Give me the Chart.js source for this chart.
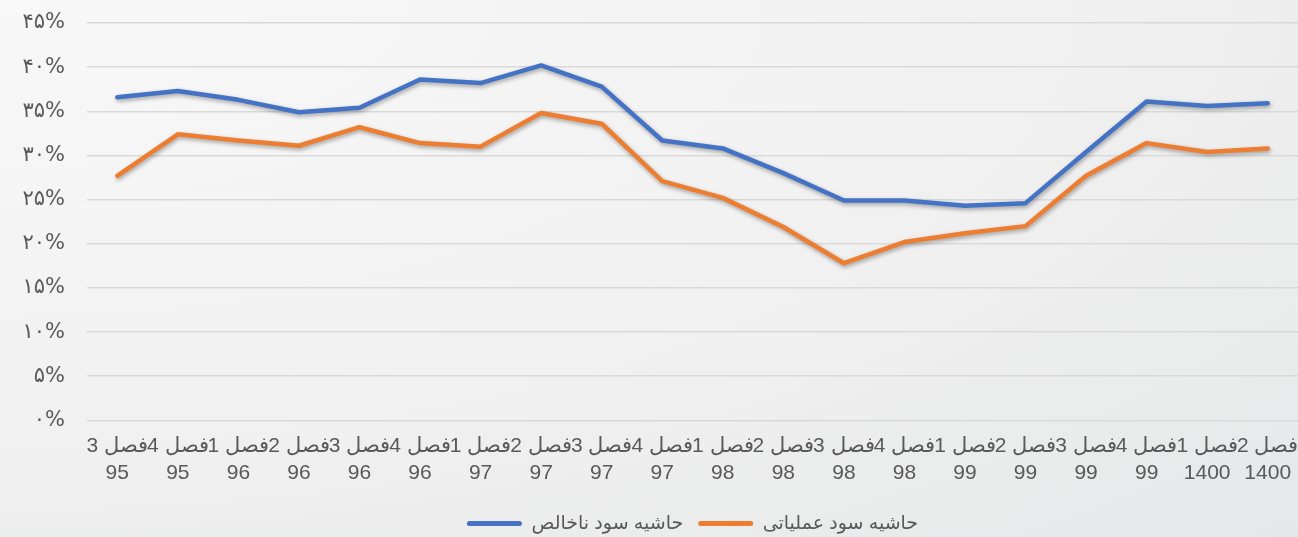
<!DOCTYPE html>
<html>
<head>
<meta charset="utf-8">
<script src="https://cdn.jsdelivr.net/npm/chart.js@4.4.0/dist/chart.umd.min.js"></script>
<style>
    html, body { margin: 0; padding: 0; }
    body {
        width: 1298px;
        height: 537px;
        overflow: hidden;
        background: radial-gradient(ellipse at 0% 0%, #f8f8f8 0%, #f1f1f1 55%, #e6e7e8 100%);
    }
    #wrap { position: relative; width: 1298px; height: 537px; }
</style>
</head>
<body>
<div id="wrap">
    <canvas id="marginChart" dir="rtl"></canvas>
</div>
<script>
const quarterLabels = [
    'فصل 3', 'فصل 4',
    'فصل 1', 'فصل 2', 'فصل 3', 'فصل 4',
    'فصل 1', 'فصل 2', 'فصل 3', 'فصل 4',
    'فصل 1', 'فصل 2', 'فصل 3', 'فصل 4',
    'فصل 1', 'فصل 2', 'فصل 3', 'فصل 4',
    'فصل 1', 'فصل 2'
];
const yearLabels = [
    '95', '95',
    '96', '96', '96', '96',
    '97', '97', '97', '97',
    '98', '98', '98', '98',
    '99', '99', '99', '99',
    '1400', '1400'
];
// حاشیه سود ناخالص (%)
const grossMargin = [36.6, 37.3, 36.3, 34.9, 35.4, 38.6, 38.2, 40.2, 37.8, 31.7,
                     30.8, 28.0, 24.9, 24.9, 24.3, 24.6, 30.4, 36.1, 35.6, 35.9];
// حاشیه سود عملیاتی (%)
const operatingMargin = [27.7, 32.4, 31.7, 31.1, 33.2, 31.4, 31.0, 34.8, 33.6, 27.1,
                         25.2, 21.9, 17.8, 20.2, 21.2, 22.0, 27.7, 31.4, 30.4, 30.8];
const seriesNames = ['حاشیه سود ناخالص', 'حاشیه سود عملیاتی'];
const yTickLabels = ['۰%', '۵%', '۱۰%', '۱۵%', '۲۰%', '۲۵%', '۳۰%', '۳۵%', '۴۰%', '۴۵%'];

document.addEventListener("DOMContentLoaded", function() {

    const ctx = document.getElementById('marginChart');
    const textColor = '#595959';

    const lineShadow = {
        id: 'lineShadow',
        beforeDatasetsDraw: function(chart) {
            const c = chart.ctx;
            c.save();
            c.shadowColor = 'rgba(0, 0, 0, 0.35)';
            c.shadowBlur = 4;
            c.shadowOffsetX = 1;
            c.shadowOffsetY = 2;
        },
        afterDatasetsDraw: function(chart) {
            chart.ctx.restore();
        }
    };

    new Chart(ctx, {
        type: 'line',
        data: {
            labels: quarterLabels.map(function(q, i) { return [q, yearLabels[i]]; }),
            datasets: [
                {
                    label: seriesNames[0],
                    data: grossMargin,
                    borderColor: '#4472c4',
                    backgroundColor: '#4472c4',
                    borderWidth: 4.5,
                    borderCapStyle: 'round',
                    borderJoinStyle: 'round',
                    pointRadius: 0,
                    tension: 0
                },
                {
                    label: seriesNames[1],
                    data: operatingMargin,
                    borderColor: '#ed7d31',
                    backgroundColor: '#ed7d31',
                    borderWidth: 4.5,
                    borderCapStyle: 'round',
                    borderJoinStyle: 'round',
                    pointRadius: 0,
                    tension: 0
                }
            ]
        },
        options: {
            responsive: true,
            maintainAspectRatio: false,
            animation: false,
            layout: {
                padding: { top: 23, right: 0, left: 0, bottom: -6 }
            },
            scales: {
                x: {
                    offset: true,
                    afterFit: function(scale) {
                        scale.paddingLeft = 0;
                        scale.paddingRight = 0;
                    },
                    grid: { display: false, drawTicks: false },
                    border: { display: false },
                    ticks: {
                        color: textColor,
                        padding: 12,
                        maxRotation: 0,
                        autoSkip: false,
                        font: { family: "'Liberation Sans', Arial, sans-serif", size: 21, lineHeight: 1.3 }
                    }
                },
                y: {
                    min: 0,
                    max: 45,
                    afterFit: function(scale) {
                        scale.width = 87;
                        scale.paddingTop = 0;
                        scale.paddingBottom = 0;
                    },
                    grid: { color: '#d9d9d9', lineWidth: 1.5, drawTicks: false },
                    border: { display: false },
                    ticks: {
                        stepSize: 5,
                        color: textColor,
                        padding: 22,
                        font: { family: "'DejaVu Sans', sans-serif", size: 21 },
                        callback: function(value) { return yTickLabels[Math.round(value / 5)]; }
                    }
                }
            },
            plugins: {
                legend: {
                    position: 'bottom',
                    fullSize: false,
                    labels: {
                        color: textColor,
                        boxWidth: 55,
                        boxHeight: 5,
                        useBorderRadius: true,
                        borderRadius: 2.5,
                        padding: 15,
                        font: { family: "'Liberation Sans', 'DejaVu Sans', sans-serif", size: 19 },
                        generateLabels: function(chart) {
                            const items = Chart.defaults.plugins.legend.labels.generateLabels(chart);
                            items.forEach(function(item) {
                                item.lineWidth = 0;
                                item.fillStyle = item.strokeStyle;
                            });
                            return items;
                        }
                    }
                },
                tooltip: { enabled: false }
            }
        },
        plugins: [lineShadow]
    });
});
</script>
</body>
</html>
